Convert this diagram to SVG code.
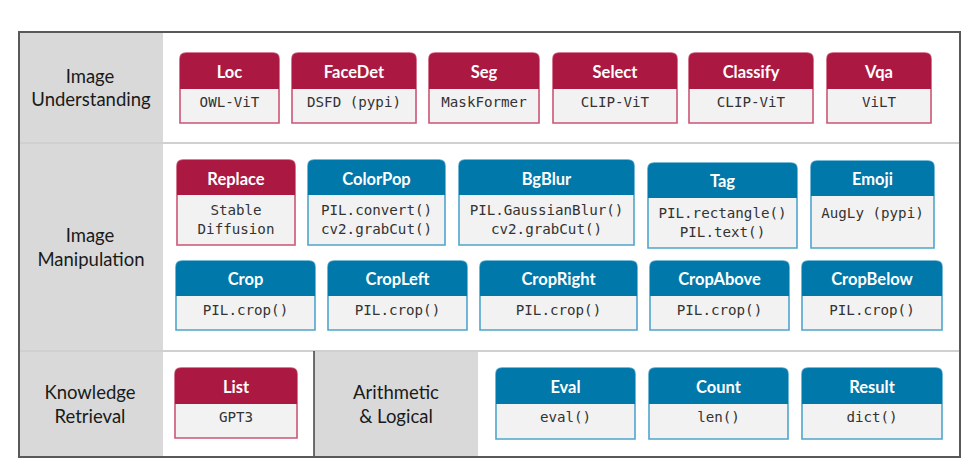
<svg xmlns="http://www.w3.org/2000/svg" width="976" height="471" viewBox="0 0 976 471">
<style>
.bg{fill:#ffffff}
.cell{fill:#d9d9d9}
.div{stroke:#d0d0d0;stroke-width:2;fill:none}
.frame{fill:none;stroke:#595959;stroke-width:2}
.lbl{font-family:Lato,"Liberation Sans",sans-serif;font-size:18.5px;fill:#1a1a1a;text-anchor:middle}
.hd{font-family:Lato,"Liberation Sans",sans-serif;font-size:16.5px;font-weight:bold;fill:#ffffff;text-anchor:middle}
.mono{font-family:"DejaVu Sans Mono","Liberation Mono",monospace;font-size:14.2px;fill:#333333;text-anchor:middle}
.rbody{fill:#f2f2f2;stroke:#cc5676;stroke-width:1.6}
.rhead{fill:#ab1942}
.bbody{fill:#f2f2f2;stroke:#4fa5cc;stroke-width:1.6}
.bhead{fill:#0078aa}
</style>
<rect class="bg" x="0" y="0" width="976" height="471"/>
<g id="background">
<rect class="cell" x="19" y="32" width="144" height="425"/>
<rect class="cell" x="314" y="351" width="164" height="106"/>
<line class="div" x1="19" y1="143" x2="960" y2="143"/>
<line class="div" x1="19" y1="351" x2="960" y2="351"/>
<line x1="314" y1="351" x2="314" y2="457" stroke="#404040" stroke-width="1.5"/>
<rect class="frame" x="19" y="32" width="941" height="425"/>
</g>
<g id="labels">
<text class="lbl" x="90" y="83">Image</text>
<text class="lbl" x="91" y="106">Understanding</text>
<text class="lbl" x="90" y="242">Image</text>
<text class="lbl" x="91" y="266">Manipulation</text>
<text class="lbl" x="90" y="399">Knowledge</text>
<text class="lbl" x="90" y="423">Retrieval</text>
<text class="lbl" x="396" y="399">Arithmetic</text>
<text class="lbl" x="396" y="423">&amp; Logical</text>
</g>
<g id="connectors"></g>
<!-- Row 1 -->
<g id="loc">
<path class="rbody" d="M180,123 V59 Q180,53 186,53 H273 Q279,53 279,59 V123 Z"/>
<path class="rhead" d="M180,89 V59 Q180,53 186,53 H273 Q279,53 279,59 V89 Z"/>
<text class="hd" x="229.5" y="77.5">Loc</text>
<text class="mono" x="229.5" y="107">OWL-ViT</text>
</g>
<g id="facedet">
<path class="rbody" d="M292,123 V59 Q292,53 298,53 H410 Q416,53 416,59 V123 Z"/>
<path class="rhead" d="M292,89 V59 Q292,53 298,53 H410 Q416,53 416,59 V89 Z"/>
<text class="hd" x="354" y="77.5">FaceDet</text>
<text class="mono" x="354" y="107">DSFD (pypi)</text>
</g>
<g id="seg">
<path class="rbody" d="M429,123 V59 Q429,53 435,53 H533 Q539,53 539,59 V123 Z"/>
<path class="rhead" d="M429,89 V59 Q429,53 435,53 H533 Q539,53 539,59 V89 Z"/>
<text class="hd" x="484" y="77.5">Seg</text>
<text class="mono" x="484" y="107">MaskFormer</text>
</g>
<g id="select">
<path class="rbody" d="M553,123 V59 Q553,53 559,53 H671 Q677,53 677,59 V123 Z"/>
<path class="rhead" d="M553,89 V59 Q553,53 559,53 H671 Q677,53 677,59 V89 Z"/>
<text class="hd" x="615" y="77.5">Select</text>
<text class="mono" x="615" y="107">CLIP-ViT</text>
</g>
<g id="classify">
<path class="rbody" d="M689,123 V59 Q689,53 695,53 H807 Q813,53 813,59 V123 Z"/>
<path class="rhead" d="M689,89 V59 Q689,53 695,53 H807 Q813,53 813,59 V89 Z"/>
<text class="hd" x="751" y="77.5">Classify</text>
<text class="mono" x="751" y="107">CLIP-ViT</text>
</g>
<g id="vqa">
<path class="rbody" d="M827,123 V59 Q827,53 833,53 H925 Q931,53 931,59 V123 Z"/>
<path class="rhead" d="M827,89 V59 Q827,53 833,53 H925 Q931,53 931,59 V89 Z"/>
<text class="hd" x="879" y="77.5">Vqa</text>
<text class="mono" x="879" y="107">ViLT</text>
</g>
<!-- Row 2a -->
<g id="replace">
<path class="rbody" d="M177,245 V166 Q177,160 183,160 H289 Q295,160 295,166 V245 Z"/>
<path class="rhead" d="M177,195 V166 Q177,160 183,160 H289 Q295,160 295,166 V195 Z"/>
<text class="hd" x="236" y="185">Replace</text>
<text class="mono" x="236" y="215">Stable</text>
<text class="mono" x="236" y="234">Diffusion</text>
</g>
<g id="colorpop">
<path class="bbody" d="M308,245 V166 Q308,160 314,160 H439 Q445,160 445,166 V245 Z"/>
<path class="bhead" d="M308,195 V166 Q308,160 314,160 H439 Q445,160 445,166 V195 Z"/>
<text class="hd" x="376.5" y="185">ColorPop</text>
<text class="mono" x="376.5" y="215">PIL.convert()</text>
<text class="mono" x="376.5" y="234">cv2.grabCut()</text>
</g>
<g id="bgblur">
<path class="bbody" d="M459,245 V166 Q459,160 465,160 H628 Q634,160 634,166 V245 Z"/>
<path class="bhead" d="M459,195 V166 Q459,160 465,160 H628 Q634,160 634,166 V195 Z"/>
<text class="hd" x="546.5" y="185">BgBlur</text>
<text class="mono" x="546.5" y="215">PIL.GaussianBlur()</text>
<text class="mono" x="546.5" y="234">cv2.grabCut()</text>
</g>
<g id="tag">
<path class="bbody" d="M648,248 V169 Q648,163 654,163 H791 Q797,163 797,169 V248 Z"/>
<path class="bhead" d="M648,198 V169 Q648,163 654,163 H791 Q797,163 797,169 V198 Z"/>
<text class="hd" x="722.5" y="187">Tag</text>
<text class="mono" x="722.5" y="218">PIL.rectangle()</text>
<text class="mono" x="722.5" y="237">PIL.text()</text>
</g>
<g id="emoji">
<path class="bbody" d="M811,248 V167 Q811,161 817,161 H928 Q934,161 934,167 V248 Z"/>
<path class="bhead" d="M811,196 V167 Q811,161 817,161 H928 Q934,161 934,167 V196 Z"/>
<text class="hd" x="872.5" y="185">Emoji</text>
<text class="mono" x="872.5" y="218">AugLy (pypi)</text>
</g>
<!-- Row 2b -->
<g id="crop">
<path class="bbody" d="M176,330 V267 Q176,261 182,261 H309 Q315,261 315,267 V330 Z"/>
<path class="bhead" d="M176,296 V267 Q176,261 182,261 H309 Q315,261 315,267 V296 Z"/>
<text class="hd" x="245.5" y="285">Crop</text>
<text class="mono" x="245.5" y="315">PIL.crop()</text>
</g>
<g id="cropleft">
<path class="bbody" d="M328,330 V267 Q328,261 334,261 H461 Q467,261 467,267 V330 Z"/>
<path class="bhead" d="M328,296 V267 Q328,261 334,261 H461 Q467,261 467,267 V296 Z"/>
<text class="hd" x="397.5" y="285">CropLeft</text>
<text class="mono" x="397.5" y="315">PIL.crop()</text>
</g>
<g id="cropright">
<path class="bbody" d="M480,330 V267 Q480,261 486,261 H631 Q637,261 637,267 V330 Z"/>
<path class="bhead" d="M480,296 V267 Q480,261 486,261 H631 Q637,261 637,267 V296 Z"/>
<text class="hd" x="558.5" y="285">CropRight</text>
<text class="mono" x="558.5" y="315">PIL.crop()</text>
</g>
<g id="cropabove">
<path class="bbody" d="M650,330 V267 Q650,261 656,261 H783 Q789,261 789,267 V330 Z"/>
<path class="bhead" d="M650,296 V267 Q650,261 656,261 H783 Q789,261 789,267 V296 Z"/>
<text class="hd" x="719.5" y="285">CropAbove</text>
<text class="mono" x="719.5" y="315">PIL.crop()</text>
</g>
<g id="cropbelow">
<path class="bbody" d="M802,330 V267 Q802,261 808,261 H936 Q942,261 942,267 V330 Z"/>
<path class="bhead" d="M802,296 V267 Q802,261 808,261 H936 Q942,261 942,267 V296 Z"/>
<text class="hd" x="872" y="285">CropBelow</text>
<text class="mono" x="872" y="315">PIL.crop()</text>
</g>
<!-- Row 3 -->
<g id="list">
<path class="rbody" d="M175,438 V374 Q175,368 181,368 H291 Q297,368 297,374 V438 Z"/>
<path class="rhead" d="M175,404 V374 Q175,368 181,368 H291 Q297,368 297,374 V404 Z"/>
<text class="hd" x="236" y="392.5">List</text>
<text class="mono" x="236" y="422">GPT3</text>
</g>
<g id="eval">
<path class="bbody" d="M496,439 V374 Q496,368 502,368 H629 Q635,368 635,374 V439 Z"/>
<path class="bhead" d="M496,404 V374 Q496,368 502,368 H629 Q635,368 635,374 V404 Z"/>
<text class="hd" x="565.5" y="392.5">Eval</text>
<text class="mono" x="565.5" y="422">eval()</text>
</g>
<g id="count">
<path class="bbody" d="M649,439 V374 Q649,368 655,368 H782 Q788,368 788,374 V439 Z"/>
<path class="bhead" d="M649,404 V374 Q649,368 655,368 H782 Q788,368 788,374 V404 Z"/>
<text class="hd" x="718.5" y="392.5">Count</text>
<text class="mono" x="718.5" y="422">len()</text>
</g>
<g id="result">
<path class="bbody" d="M802,439 V374 Q802,368 808,368 H936 Q942,368 942,374 V439 Z"/>
<path class="bhead" d="M802,404 V374 Q802,368 808,368 H936 Q942,368 942,374 V404 Z"/>
<text class="hd" x="872" y="392.5">Result</text>
<text class="mono" x="872" y="422">dict()</text>
</g>
</svg>
